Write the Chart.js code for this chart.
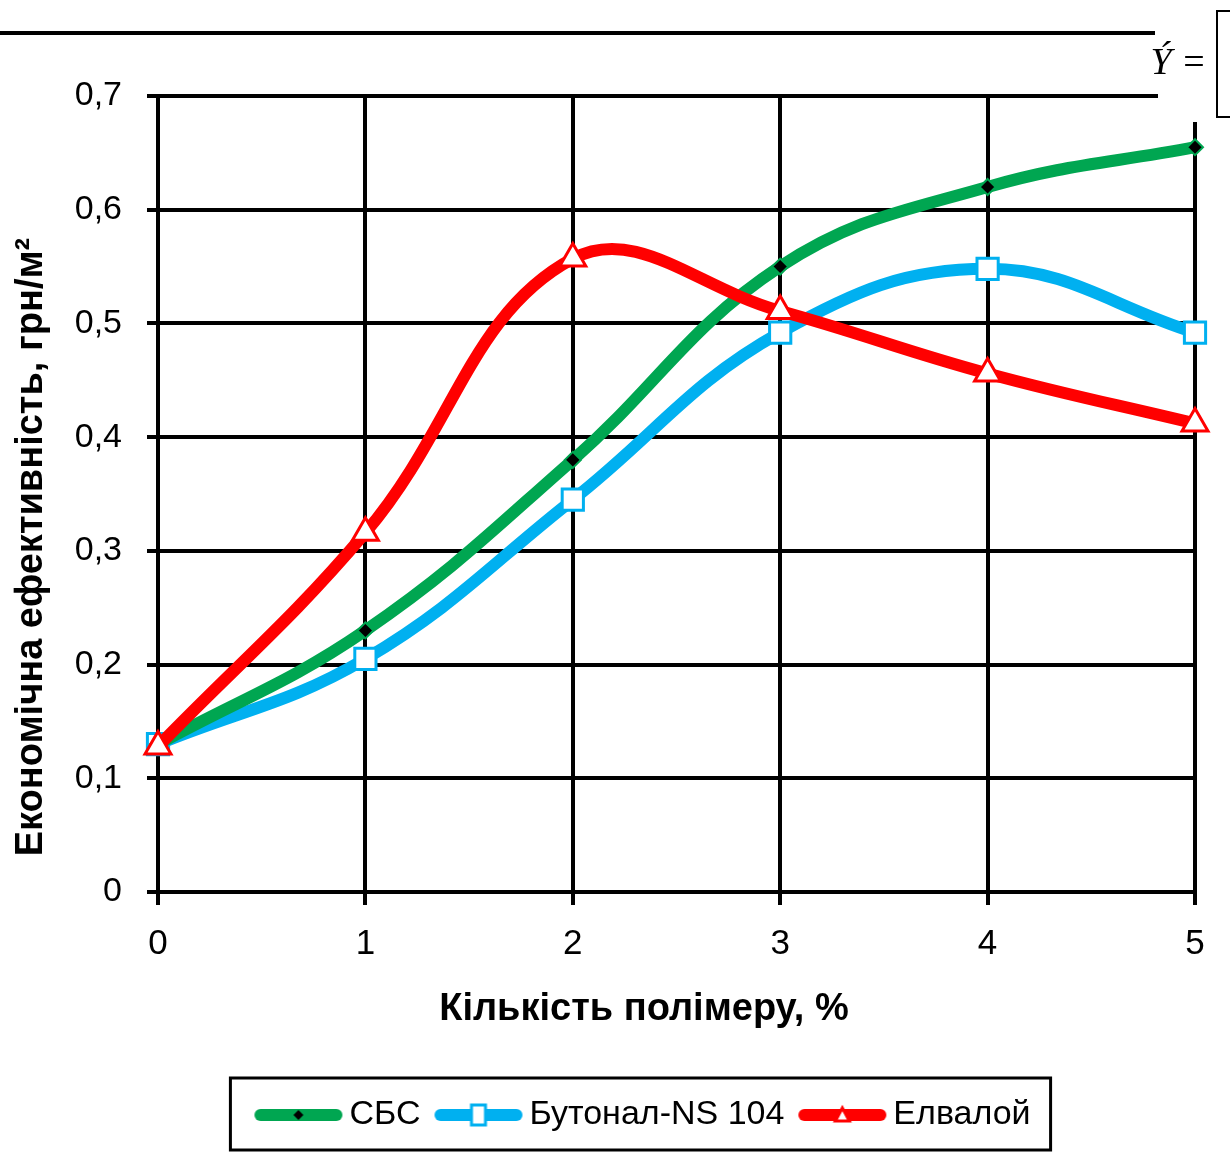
<!DOCTYPE html>
<html>
<head>
<meta charset="utf-8">
<script src="https://cdn.jsdelivr.net/npm/chart.js"></script>
<style>
  html, body { margin: 0; padding: 0; background: #fff; }
  #wrap { width: 1230px; height: 1152px; }
</style>
</head>
<body>
<div id="wrap"><canvas id="chart"></canvas></div>
<script>
// polymer amount, %
const xValues = [0, 1, 2, 3, 4, 5];
const sbsValues = [0.13, 0.23, 0.38, 0.55, 0.62, 0.655];
const butonalValues = [0.13, 0.205, 0.345, 0.492, 0.548, 0.492];
const elvaloyValues = [0.128, 0.316, 0.557, 0.511, 0.456, 0.412];
const seriesNames = ['СБС', 'Бутонал-NS 104', 'Елвалой'];
const yMin = 0, yMax = 0.7, yStep = 0.1;
const xTitle = 'Кількість полімеру, %';
const yTitle = 'Економічна ефективність, грн/м²';

const GREEN = '#00a651';
const BLUE = '#00b0f0';
const RED = '#ff0000';
const FONT = '"Liberation Sans", Arial, sans-serif';

Chart.defaults.font.family = FONT;
Chart.defaults.color = '#000';

function toPoints(vals) {
  return xValues.map((x, i) => ({ x: x, y: vals[i] }));
}

// little line+marker pictures for the legend
function legendSample(color, marker) {
  const c = document.createElement('canvas');
  c.width = 96; c.height = 30;
  const g = c.getContext('2d');
  g.strokeStyle = color;
  g.lineWidth = 12;
  g.lineCap = 'round';
  g.beginPath(); g.moveTo(8, 15); g.lineTo(84, 15); g.stroke();
  g.lineWidth = 3;
  if (marker === 'diamond') {
    g.fillStyle = '#000';
    g.beginPath(); g.moveTo(46, 10); g.lineTo(51, 15); g.lineTo(46, 20); g.lineTo(41, 15); g.closePath(); g.fill();
  } else if (marker === 'square') {
    g.fillStyle = '#fff';
    g.fillRect(39, 5, 14, 20);
    g.strokeRect(39, 5, 14, 20);
  } else {
    g.fillStyle = '#fff';
    g.beginPath(); g.moveTo(46, 8); g.lineTo(53, 21); g.lineTo(39, 21); g.closePath(); g.fill(); g.stroke();
  }
  return c;
}
const samples = [legendSample(GREEN, 'diamond'), legendSample(BLUE, 'square'), legendSample(RED, 'triangle')];

const extras = {
  id: 'extras',
  afterLayout(chart) {
    // legend frame sits a bit right of the canvas middle
    chart.legend.left += 52;
    chart.legend.right += 52;
  },
  afterDraw(chart) {
    const ctx = chart.ctx;
    ctx.save();
    // axis titles
    ctx.fillStyle = '#000';
    ctx.font = 'bold 38px ' + FONT;
    ctx.textAlign = 'center';
    ctx.textBaseline = 'alphabetic';
    ctx.fillText(xTitle, 644, 1020);
    ctx.save();
    ctx.translate(42, 547);
    ctx.rotate(-Math.PI / 2);
    ctx.fillText(yTitle, 0, 0);
    ctx.restore();

    // page fragment at the top right
    ctx.fillStyle = '#fff';
    ctx.fillRect(1158, 0, 72, 122);
    ctx.fillStyle = '#000';
    ctx.fillRect(0, 31, 1155, 4);
    ctx.font = 'italic 38px "Liberation Serif", serif';
    ctx.fillText('Ý', 1161, 74);
    ctx.font = '38px "Liberation Serif", serif';
    ctx.fillText('=', 1194, 74);
    ctx.strokeStyle = '#000';
    ctx.lineWidth = 2;
    ctx.beginPath();
    ctx.moveTo(1232, 11); ctx.lineTo(1217, 11); ctx.lineTo(1217, 117); ctx.lineTo(1232, 117);
    ctx.stroke();

    // legend frame
    const lg = chart.legend;
    const pad = lg.options.labels.padding;
    const lw = lg.lineWidths[0];
    const x0 = (lg.left + pad + lg.right - lw) / 2;
    const x1 = x0 + lw - pad;
    ctx.lineWidth = 3;
    ctx.strokeRect(x0 - 38, lg.top + 8, (x1 + 20) - (x0 - 38), 72);
    ctx.restore();
  }
};

const ctx = document.getElementById('chart').getContext('2d');
new Chart(ctx, {
  type: 'line',
  data: {
    datasets: [
      {
        label: seriesNames[0], data: toPoints(sbsValues),
        borderColor: GREEN, borderWidth: 12, tension: 0.4, order: 1,
        pointStyle: 'rectRot', pointRadius: 8, pointBackgroundColor: '#000',
        pointBorderColor: GREEN, pointBorderWidth: 2
      },
      {
        label: seriesNames[1], data: toPoints(butonalValues),
        borderColor: BLUE, borderWidth: 12, tension: 0.4, order: 2,
        pointStyle: 'rect', pointRadius: 15, pointBackgroundColor: '#fff',
        pointBorderColor: BLUE, pointBorderWidth: 3
      },
      {
        label: seriesNames[2], data: toPoints(elvaloyValues),
        borderColor: RED, borderWidth: 12, tension: 0.4, order: 0,
        pointStyle: 'triangle', pointRadius: 15, pointBackgroundColor: '#fff',
        pointBorderColor: RED, pointBorderWidth: 3
      }
    ]
  },
  options: {
    responsive: true,
    maintainAspectRatio: false,
    animation: false,
    clip: false,
    layout: { padding: { top: 96, right: 35, bottom: 10, left: 0 } },
    plugins: {
      tooltip: { enabled: false },
      legend: {
        position: 'bottom',
        labels: {
          usePointStyle: true,
          pointStyleWidth: 64,
          padding: 28,
          font: { size: 34 },
          color: '#000',
          generateLabels: chart => chart.data.datasets.map((ds, i) => ({
            text: ds.label, pointStyle: samples[i], datasetIndex: i,
            fillStyle: ds.borderColor, strokeStyle: ds.borderColor, lineWidth: 0, hidden: false
          }))
        }
      }
    },
    scales: {
      x: {
        type: 'linear', min: 0, max: 5,
        afterFit: s => { s.height = 178; },
        ticks: { stepSize: 1, padding: 18, font: { size: 35 }, color: '#000' },
        grid: { color: '#000', lineWidth: 4, tickLength: 13, tickColor: '#000', tickWidth: 4 },
        border: { display: true, color: '#000', width: 4 }
      },
      y: {
        min: yMin, max: yMax,
        afterFit: s => { s.width = 158; },
        ticks: {
          stepSize: yStep, padding: 25, font: { size: 34 }, color: '#000',
          callback: v => v === 0 ? '0' : v.toFixed(1).replace('.', ',')
        },
        grid: { color: '#000', lineWidth: 4, tickLength: 11, tickColor: '#000', tickWidth: 4 },
        border: { display: true, color: '#000', width: 4 }
      }
    }
  },
  plugins: [extras]
});
</script>
</body>
</html>
